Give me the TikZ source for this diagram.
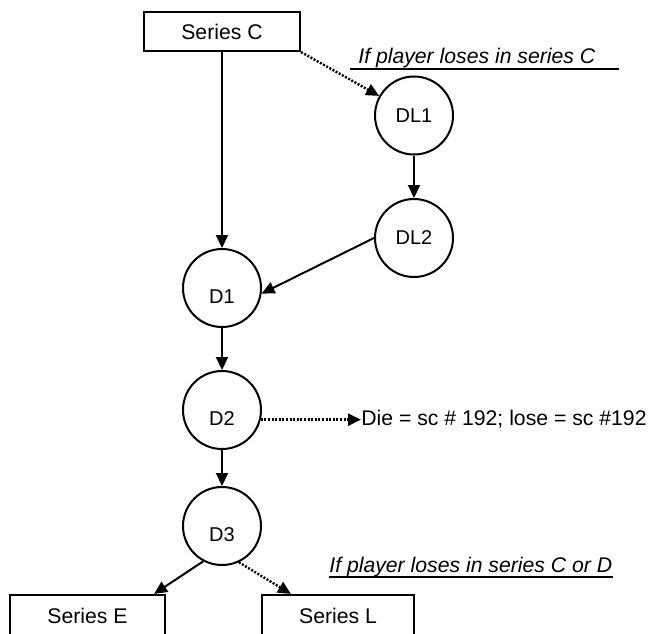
\documentclass[tikz,border=0pt]{standalone}
\usepackage{fontspec}
\setmainfont{Liberation Sans}
\usetikzlibrary{positioning,arrows.meta}

\tikzset{
  box/.style={draw, line width=1.1pt, minimum width=78pt, minimum height=19.5pt,
    inner sep=0pt, font=\fontsize{10.6}{12}\selectfont},
  dstate/.style={draw, circle, line width=1pt, minimum size=39pt, inner sep=0pt,
    font=\fontsize{10}{12}\selectfont},
  low/.style={text height=15pt, text depth=0pt},
  arr/.style={line width=1pt, -{Triangle[length=6.5pt,width=6pt]}},
  dots/.style={line width=1.2pt, dash pattern=on 1pt off 0.8pt},
  note/.style={inner sep=0pt, font=\fontsize{10.6}{12}\selectfont\itshape},
  txt/.style={inner sep=0pt, font=\fontsize{10.6}{12}\selectfont},
}

\begin{document}
\begin{tikzpicture}[x=0.5pt, y=-0.5pt]
\useasboundingbox (0,0) rectangle (648,633);

\def\xa{222}
\def\xb{414}

\def\ya{31.5}
\def\yb{115.5}
\def\yc{238}
\def\yd{288}
\def\ye{410}
\def\yf{526}
\def\yg{616}

\node[box] (sc) at (\xa, \ya) {Series C};
\node[dstate] (dl1) at (\xb, \yb) {DL1};
\node[dstate] (dl2) at (\xb, \yc) {DL2};
\node[dstate, low] (d1) at (\xa, \yd) {D1};
\node[dstate, low] (d2) at (\xa, \ye) {D2};
\node[dstate, low] (d3) at (\xa, \yf) {D3};
\node[box, minimum width=77.5pt, minimum height=21pt] (se) at (87.5, \yg) {Series E};
\node[box, minimum width=76pt, minimum height=21pt] (sl) at (338, \yg) {Series L};

% side notes
\node[note, anchor=base west] (n1) at (358, 63) {If player loses in series C};
\node[note, anchor=base west] (n2) at (329, 572) {If player loses in series C or D};
\node[txt, anchor=base west] (die) at (361, 425) {Die = sc \# 192; lose = sc \#192};
\coordinate (u1a) at (350, 69);
\coordinate (u1b) at (619, 69);
\coordinate (u2a) at (329, 577);
\coordinate (u2b) at (613, 577);
\draw[line width=1pt] (u1a) -- (u1b);
\draw[line width=1pt] (u2a) -- (u2b);

\draw[arr] (sc) -- (d1);
\draw[arr, dots] (sc.south east) -- (dl1);
\draw[arr] (dl1) -- (dl2);
\draw[arr] (dl2.west) -- (d1.-8);
\draw[arr] (d1) -- (d2);
\draw[arr, dots] (d2.-14) -- (d2.-14 -| die.west);
\draw[arr] (d2) -- (d3);
\draw[arr] (d3.242) -- ([xshift=-6pt]se.north east);
\draw[arr, dots] (d3.295) -- ([xshift=15pt]sl.north west);

\end{tikzpicture}
\end{document}
